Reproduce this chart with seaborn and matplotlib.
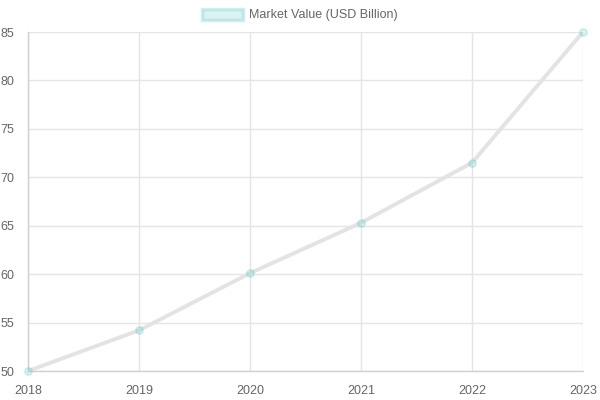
import pandas as pd
import matplotlib
matplotlib.use("Agg")
import matplotlib.pyplot as plt
from matplotlib.patches import Patch
import seaborn as sns

# Data
years = [2018, 2019, 2020, 2021, 2022, 2023]
market_value = [50.0, 54.2, 60.1, 65.3, 71.5, 85.0]
series_label = "Market Value (USD Billion)"

df = pd.DataFrame({"year": years, "value": market_value})

sns.set_style("white")
plt.rcParams["font.family"] = ["Liberation Sans", "DejaVu Sans"]

fig = plt.figure(figsize=(6, 4), dpi=100)
ax = fig.add_axes([28 / 600, 29 / 400, 555 / 600, 339 / 400])

sns.lineplot(data=df, x="year", y="value", ax=ax, color="#e3e3e3",
             linewidth=2.8, zorder=2)
sns.scatterplot(data=df, x="year", y="value", ax=ax, s=28,
                color=(0.29, 0.75, 0.75, 0.2), edgecolor=(0.29, 0.75, 0.75, 0.25),
                linewidth=1, zorder=3, clip_on=False)

ax.set_xlim(2018, 2023)
ax.set_ylim(50, 85)
ax.set_xticks(years)
ax.set_yticks(range(50, 86, 5))
ax.set_xlabel("")
ax.set_ylabel("")

ax.grid(True, color="#e5e5e5", linewidth=1)
for side in ["top", "right"]:
    ax.spines[side].set_visible(False)
for side in ["left", "bottom"]:
    ax.spines[side].set_color("#d0d0d0")
    ax.spines[side].set_linewidth(1)

ax.tick_params(axis="both", colors="#e5e5e5", length=8, width=1,
               labelcolor="#666666", labelsize=9)
ax.tick_params(axis="y", pad=2)
ax.tick_params(axis="x", pad=2)

handle = Patch(facecolor=(0.29, 0.75, 0.75, 0.2), edgecolor=(0.29, 0.75, 0.75, 0.25),
               linewidth=2.5)
fig.legend(handles=[handle], labels=[series_label], loc="center",
           bbox_to_anchor=(0.5, 1 - 15 / 400), frameon=False, fontsize=9,
           labelcolor="#666666", handlelength=3.3, handleheight=1.0,
           handletextpad=0.5)

fig.savefig("out.png", dpi=100)
